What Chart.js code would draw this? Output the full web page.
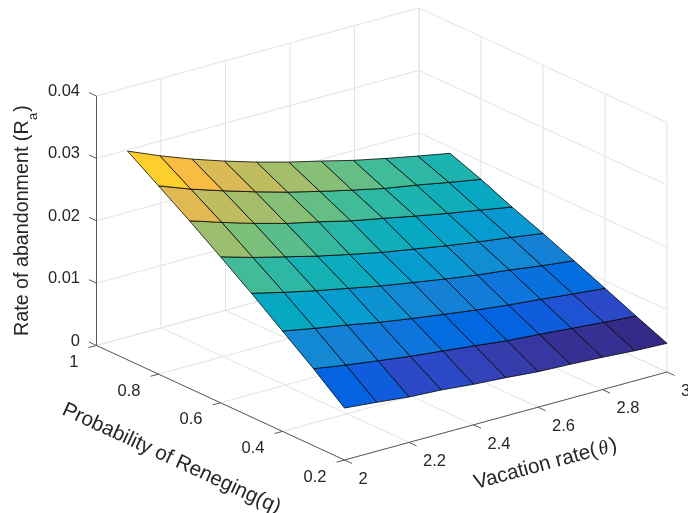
<!DOCTYPE html>
<html>
<head>
<meta charset="utf-8">
<style>html,body{margin:0;padding:0;background:#fff;overflow:hidden}canvas{display:block;filter:blur(0.3px)}</style>
<script src="https://cdn.jsdelivr.net/npm/chart.js@4"></script>
</head>
<body>
<canvas id="c" width="688" height="513"></canvas>
<script>
// ---- Data ----
const thetaValues = [2, 2.1, 2.2, 2.3, 2.4, 2.5, 2.6, 2.7, 2.8, 2.9, 3];
const qValues = [0.9, 0.8, 0.7, 0.6, 0.5, 0.4, 0.3, 0.2];
const abandonQ90 = [0.03346, 0.0313, 0.02936, 0.02763, 0.02606, 0.02465, 0.0234, 0.0221, 0.0210, 0.01997, 0.0190];
const abandonQ80 = [0.03019, 0.02825, 0.02657, 0.025, 0.02354, 0.02224, 0.02104, 0.0199, 0.01902, 0.01804, 0.01712];
const abandonQ70 = [0.02688, 0.02521, 0.02364, 0.02223, 0.02107, 0.01982, 0.0188, 0.01776, 0.01678, 0.0159, 0.01497];
const abandonQ60 = [0.0234, 0.02189, 0.02058, 0.01928, 0.01814, 0.01705, 0.01617, 0.01529, 0.01452, 0.01381, 0.01304];
const abandonQ50 = [0.01984, 0.01859, 0.01744, 0.01641, 0.01537, 0.01452, 0.01367, 0.0129, 0.01229, 0.01157, 0.01096];
const abandonQ40 = [0.01609, 0.01511, 0.01423, 0.01325, 0.01245, 0.01172, 0.01099, 0.01038, 0.00989, 0.00933, 0.00883];
const abandonQ30 = [0.01234, 0.01152, 0.0108, 0.0101, 0.00954, 0.00897, 0.00837, 0.00798, 0.00753, 0.00708, 0.00668];
const abandonQ20 = [0.00833, 0.00784, 0.00728, 0.00699, 0.00649, 0.00614, 0.00569, 0.00546, 0.00518, 0.00482, 0.0046];
const thetaTicks = [2, 2.2, 2.4, 2.6, 2.8, 3];
const qTicks = [1, 0.8, 0.6, 0.4, 0.2];
const zTicks = [0, 0.01, 0.02, 0.03, 0.04];
const parula = [[.2081,.1663,.5292],[.2116,.1898,.5777],[.2123,.2138,.6270],[.2081,.2386,.6771],[.1959,.2645,.7279],[.1707,.2919,.7792],[.1253,.3242,.8303],[.0591,.3598,.8683],[.0117,.3875,.8820],[.0060,.4086,.8828],[.0165,.4266,.8786],[.0329,.4430,.8720],[.0498,.4586,.8641],[.0629,.4737,.8554],[.0723,.4887,.8467],[.0779,.5040,.8384],[.0793,.5200,.8312],[.0749,.5375,.8263],[.0641,.5570,.8240],[.0488,.5772,.8228],[.0343,.5966,.8199],[.0265,.6137,.8135],[.0239,.6287,.8038],[.0231,.6418,.7913],[.0228,.6535,.7768],[.0267,.6642,.7607],[.0384,.6743,.7436],[.0590,.6838,.7254],[.0843,.6928,.7062],[.1133,.7015,.6859],[.1453,.7098,.6646],[.1801,.7177,.6424],[.2178,.7250,.6193],[.2586,.7317,.5954],[.3022,.7376,.5712],[.3482,.7424,.5473],[.3953,.7459,.5244],[.4420,.7481,.5033],[.4871,.7491,.4840],[.5300,.7491,.4661],[.5709,.7485,.4494],[.6099,.7473,.4337],[.6473,.7456,.4188],[.6834,.7435,.4044],[.7184,.7411,.3905],[.7525,.7384,.3768],[.7858,.7356,.3633],[.8185,.7327,.3498],[.8507,.7299,.3360],[.8824,.7274,.3217],[.9139,.7258,.3063],[.9450,.7261,.2886],[.9739,.7314,.2666],[.9938,.7455,.2403],[.9990,.7653,.2164],[.9955,.7861,.1967],[.9880,.8066,.1794],[.9789,.8271,.1633],[.9697,.8481,.1475],[.9626,.8705,.1309],[.9589,.8949,.1132],[.9598,.9218,.0948],[.9661,.9514,.0755],[.9763,.9831,.0538]];
const abandonRows = [abandonQ90, abandonQ80, abandonQ70, abandonQ60, abandonQ50, abandonQ40, abandonQ30, abandonQ20];

// ---- Orthographic view of the box, mapped on the library's linear scales ----
const view = {ox: 96.5, oy: 345.5, tx: 322.5, ty: -88, qx: 248, qy: 114.5, zy: 6237.5};
function project(theta, q, z) {
  const a = theta - 2, b = (1 - q) / 0.8;
  return {x: view.ox + view.tx * a + view.qx * b, y: view.oy + view.ty * a + view.qy * b - view.zy * z};
}
const allZ = abandonRows.flat();
const zMin = Math.min(...allZ), zMax = Math.max(...allZ);
function colorOf(z) {
  const i = Math.min(parula.length - 1, Math.floor((z - zMin) / (zMax - zMin) * parula.length));
  const c = parula[i];
  return `rgb(${Math.round(c[0]*255)},${Math.round(c[1]*255)},${Math.round(c[2]*255)})`;
}
const datasets = [];
// surface cells: one closed polygon per cell, coloured by the low-theta / low-q corner
for (let r = 0; r < qValues.length - 1; r++) {
  for (let t = 0; t < thetaValues.length - 1; t++) {
    const corners = [[t, r], [t + 1, r], [t + 1, r + 1], [t, r + 1], [t, r]];
    datasets.push({
      label: `cell q${qValues[r]} t${thetaValues[t]}`,
      data: corners.map(([i, j]) => project(thetaValues[i], qValues[j], abandonRows[j][i])),
      showLine: true, fill: 'shape', tension: 0, pointRadius: 0,
      backgroundColor: colorOf(abandonRows[r + 1][t]),
      borderColor: 'rgba(0,0,0,0.9)', borderWidth: 0.85, clip: false
    });
  }
}
function seg(a, b, color, width) {
  datasets.push({data: [a, b], showLine: true, fill: false, tension: 0, pointRadius: 0,
    borderColor: color, borderWidth: width, clip: false});
}
const AXIS = '#5a5a5a', GRID = '#e3e3e3', TL = 8.3;
// axes and ticks
seg(project(2, 1, 0), project(2, 0.2, 0), AXIS, 1);
seg(project(2, 0.2, 0), project(3, 0.2, 0), AXIS, 1);
seg(project(2, 1, 0), project(2, 1, 0.04), AXIS, 1);
const tU = Math.hypot(view.tx, view.ty), qU = Math.hypot(view.qx, view.qy);
zTicks.forEach(z => { const p = project(2, 1, z);
  seg(p, {x: p.x - view.qx / qU * TL, y: p.y - view.qy / qU * TL}, AXIS, 1); });
qTicks.forEach(q => { const p = project(2, q, 0);
  seg(p, {x: p.x - view.tx / tU * TL, y: p.y - view.ty / tU * TL}, AXIS, 1); });
thetaTicks.forEach(t => { const p = project(t, 0.2, 0);
  seg(p, {x: p.x + view.qx / qU * TL, y: p.y + view.qy / qU * TL}, AXIS, 1); });
// grid on the floor and the two back walls
thetaTicks.forEach(t => {
  seg(project(t, 1, 0), project(t, 0.2, 0), GRID, 1);
  seg(project(t, 1, 0), project(t, 1, 0.04), GRID, 1);
});
qTicks.forEach(q => {
  seg(project(2, q, 0), project(3, q, 0), GRID, 1);
  seg(project(3, q, 0), project(3, q, 0.04), GRID, 1);
});
zTicks.forEach(z => {
  seg(project(2, 1, z), project(3, 1, z), GRID, 1);
  seg(project(3, 1, z), project(3, 0.2, z), GRID, 1);
});

const TEXT = '#262626';
function runs(ctx, x, y, angle, parts) {
  ctx.save();
  ctx.translate(x, y);
  ctx.rotate(angle);
  ctx.textAlign = 'left';
  ctx.textBaseline = 'alphabetic';
  ctx.fillStyle = TEXT;
  let cx = 0;
  parts.forEach(p => {
    ctx.font = p.font;
    ctx.fillText(p.text, cx, p.dy || 0);
    cx += ctx.measureText(p.text).width + (p.gap || 0);
  });
  ctx.restore();
}
const labelPlugin = {
  id: 'labels3d',
  afterDraw(chart) {
    const ctx = chart.ctx, sx = chart.scales.x, sy = chart.scales.y;
    const px = p => ({x: sx.getPixelForValue(p.x), y: sy.getPixelForValue(p.y)});
    const tickFont = '16.5px "Liberation Sans"';
    ctx.save();
    ctx.font = tickFont; ctx.fillStyle = TEXT; ctx.textBaseline = 'middle';
    ctx.textAlign = 'right';
    zTicks.forEach(z => { const p = px(project(2, 1, z)); ctx.fillText(String(z), p.x - 16.5, p.y - 4.5); });
    qTicks.forEach(q => { const p = px(project(2, q, 0)); ctx.fillText(String(q), p.x - 18, p.y + 17); });
    ctx.textAlign = 'left';
    thetaTicks.forEach(t => { const p = px(project(t, 0.2, 0)); ctx.fillText(String(t), p.x + 14, p.y + 19.3); });
    ctx.restore();
    const yf = '19.7px "Liberation Sans"', lf = '20.6px "Liberation Sans"';
    runs(ctx, 27.5, 336, -Math.PI / 2, [
      {text: 'Rate of abandonment (', font: yf, gap: 0},
      {text: 'R', font: yf, gap: 0.5},
      {text: 'a', font: '13px "Liberation Sans"', dy: 9, gap: 1},
      {text: ')', font: yf}
    ]);
    runs(ctx, 61, 414, Math.atan2(view.qy, view.qx), [{text: 'Probability of Reneging(q)', font: lf}]);
    runs(ctx, 476, 489, Math.atan2(view.ty, view.tx), [
      {text: 'Vacation rate(', font: lf, gap: 2},
      {text: 'θ', font: 'italic 20px "Liberation Serif"', gap: 2},
      {text: ')', font: lf}
    ]);
  }
};
new Chart(document.getElementById('c'), {
  type: 'scatter',
  data: {datasets},
  plugins: [labelPlugin],
  options: {
    responsive: false, animation: false, events: [],
    layout: {padding: 0},
    plugins: {legend: {display: false}, tooltip: {enabled: false}, title: {display: false}},
    scales: {
      x: {type: 'linear', min: 0, max: 688, display: false},
      y: {type: 'linear', min: 0, max: 513, reverse: true, display: false}
    }
  }
});
</script>
</body>
</html>
